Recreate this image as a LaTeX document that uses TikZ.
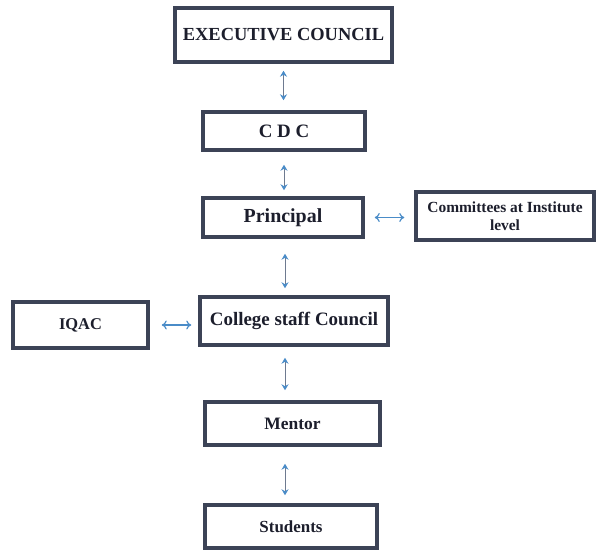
\documentclass[tikz,border=0pt]{standalone}
\usepackage{fontspec}
\setmainfont{Liberation Serif}
\usetikzlibrary{arrows.meta}
\definecolor{boxline}{HTML}{3C4356}
\definecolor{txt}{HTML}{1C1E2C}
\definecolor{tipblue}{HTML}{4A8CC8}
\definecolor{shaft}{HTML}{6E7A90}
\tikzset{
  box/.style={draw=boxline, line width=3.5bp, fill=white, text=txt, font=\bfseries, inner sep=2bp, align=center},
  arr/.style={draw=shaft, line width=0.9bp, {Stealth[length=6bp,width=7bp,inset=2bp,color=tipblue]}-{Stealth[length=6bp,width=7bp,inset=2bp,color=tipblue]}},
  harr/.style={draw=tipblue, line width=1.2bp, {To[length=5bp,width=9bp,color=tipblue]}-{To[length=5bp,width=9bp,color=tipblue]}}
}
\begin{document}
\begin{tikzpicture}[x=1bp,y=-1bp]
\useasboundingbox (0,0) rectangle (597,550);
\fill[white] (0,0) rectangle (597,550);
\node[box, minimum width=217bp, minimum height=54bp, font=\bfseries\fontsize{18.5}{20}\selectfont] (exec) at (283.5,35) {EXECUTIVE COUNCIL};
\node[box, minimum width=162bp, minimum height=38bp, font=\bfseries\fontsize{19}{21}\selectfont] (cdc) at (284,131) {C D C};
\node[box, minimum width=160bp, minimum height=39bp, font=\bfseries\fontsize{20}{22}\selectfont] (principal) at (283,217.5) {Principal};
\node[box, minimum width=178bp, minimum height=48bp, font=\bfseries\fontsize{15.5}{18}\selectfont] (committees) at (505,216) {Committees at Institute\\level};
\node[box, minimum width=135bp, minimum height=46bp, font=\bfseries\fontsize{16.5}{18}\selectfont] (iqac) at (80.5,325) {IQAC};
\node[box, minimum width=188bp, minimum height=48bp, font=\bfseries\fontsize{19}{21}\selectfont] (college) at (294,321) {College staff Council};
\node[box, minimum width=175bp, minimum height=43bp, font=\bfseries\fontsize{17.5}{19}\selectfont] (mentor) at (292.5,423.5) {Mentor};
\node[box, minimum width=172bp, minimum height=43bp, font=\bfseries\fontsize{17}{19}\selectfont] (students) at (291,526.5) {Students};
\draw[arr, shorten <=7bp, shorten >=10bp] (exec.south) -- (exec.south |- cdc.north);
\draw[arr, shorten <=13bp, shorten >=6bp] (cdc.south) -- (cdc.south |- principal.north);
\draw[arr, shorten <=15bp, shorten >=7bp] ([xshift=2bp]principal.south) -- ([xshift=2bp]principal.south |- college.north);
\draw[arr, shorten <=11bp, shorten >=10bp] ([xshift=-9bp]college.south) -- ([xshift=-9bp]college.south |- mentor.north);
\draw[arr, shorten <=17bp, shorten >=8bp] ([xshift=-7.5bp]mentor.south) -- ([xshift=-7.5bp]mentor.south |- students.north);
\draw[harr, shorten <=10bp, shorten >=10bp] (principal.east) -- (principal.east -| committees.west);
\draw[harr, shorten <=12bp, shorten >=7bp] (iqac.east) -- (iqac.east -| college.west);
\end{tikzpicture}
\end{document}
